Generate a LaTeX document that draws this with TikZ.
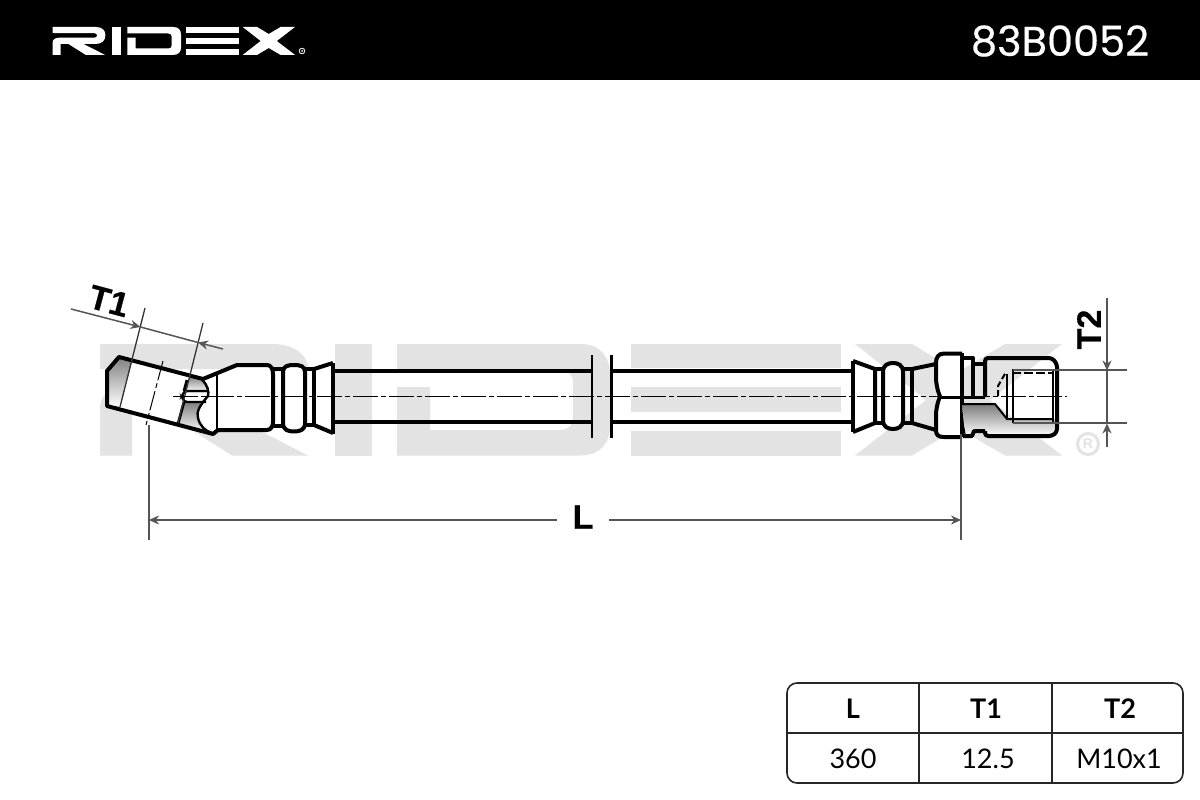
\documentclass[tikz,border=0pt]{standalone}
\usepackage{fontspec}
\setmainfont{Liberation Sans}
\newfontfamily\headfont[FakeBold=0.5]{Poppins}
\newfontfamily\tabfont{Lato}
\newfontfamily\dimfont[FakeBold=0.6]{Liberation Sans Bold}
\usetikzlibrary{arrows.meta}
\definecolor{wm}{HTML}{E3E3E3}
\definecolor{shade}{HTML}{BDBDBD}
\definecolor{dimc}{HTML}{555555}
\newcommand\ridexlogo{%
  \fill (100,455.5) -- (100,408) .. controls (100,395) and (110,387) .. (125,387) -- (262,387)
     .. controls (273,387) and (277,384) .. (277,378) .. controls (277,372) and (273,369) .. (266,369)
     -- (100,369) -- (100,344) -- (272,344) .. controls (298,344) and (310,358) .. (310,377)
     .. controls (310,398) and (296,412) .. (270,412) -- (132,412) -- (132,455.5) -- cycle;
  \fill (165,413) -- (225,413) -- (308,455.5) -- (232,455.5) -- cycle;
  \fill (335,344) rectangle (372,455.5);
  \fill (397,344) -- (580,344) .. controls (600,344) and (610,356) .. (610,375) -- (610,425)
     .. controls (610,444) and (600,455.5) .. (580,455.5) -- (397,455.5) -- (397,387) -- (430,387) -- (430,430)
     -- (560,430) .. controls (569,430) and (573,425) .. (573,417) -- (573,383)
     .. controls (573,375) and (569,370) .. (560,370) -- (397,370) -- cycle;
  \fill (631,344) rectangle (841,368);
  \fill (631,387) rectangle (841,412);
  \fill (631,431) rectangle (841,455.5);
  \fill (855,344) -- (912,344) -- (958,372) -- (1005,344) -- (1062,344) -- (990,400) -- (1062,455.5)
     -- (1005,455.5) -- (958,428) -- (912,455.5) -- (855,455.5) -- (926,400) -- cycle;
}
\tikzset{
  part/.style={draw=black,line width=4pt,line join=round},
  thin part/.style={draw=black,line width=1.4pt},
  dimline/.style={draw=dimc,line width=1.5pt},
  dimarrow/.style={draw=dimc,line width=1.5pt,-{Stealth[length=10pt,width=9pt,fill=dimc]}},
  centre/.style={draw=black,line width=1pt,dash pattern=on 25pt off 3pt on 5pt off 3pt},
  dimtext/.style={font=\dimfont\fontsize{34}{34}\selectfont,text=black,inner sep=0pt},
  tabrule/.style={draw=black!85,line width=1.6pt},
  tabhead/.style={font=\tabfont\fontsize{27}{27}\selectfont\bfseries,text=black,inner sep=0pt},
  tabcell/.style={font=\tabfont\fontsize{27}{27}\selectfont,text=black,inner sep=0pt}
}
\begin{document}
\begin{tikzpicture}[x=1pt,y=-1pt]
\useasboundingbox (0,0) rectangle (1200,800);
\fill[white] (0,0) rectangle (1200,800);
% header
\fill[black] (0,0) rectangle (1200,80);
\begin{scope}[shift={(27.3pt,59pt)},xscale=.252,yscale=.25,white]
  \ridexlogo
\end{scope}
\draw[white,line width=.8pt] (302,51) circle (2.8);
\fill[white] (302,51) circle (1);
\node[font=\headfont\fontsize{41.5}{41.5}\selectfont,text=white,inner sep=0pt] (code) at (1060,41) {83B0052};
% watermark
\begin{scope}[wm]
  \ridexlogo
\end{scope}
\draw[wm,line width=3pt] (1088,444) circle (10.5);
\node[font=\fontsize{14}{14}\selectfont\bfseries,text=wm,inner sep=0pt] (regmark) at (1088,444) {R};
% hose
\draw[part] (333,370.5) -- (592,370.5) (333,422) -- (592,422);
\draw[part] (612,370.5) -- (853,370.5) (612,422) -- (853,422);
\draw[draw=black,line width=2.2pt] (592,355) -- (592,438) (611.5,355) -- (611.5,438);
% left fitting: banjo body
\fill[white] (119,357) -- (202,379) -- (237,365) -- (268,365) -- (273,372) -- (314,369) -- (333,363) -- (333,433) -- (314,425) -- (273,423) -- (267,430) -- (218,430) -- (213,434) -- (107,406) -- (107,371) -- cycle;
\fill[shade] (108,371) -- (119,357) -- (132,361) -- (120,407) -- (108,405) -- cycle;
\fill[shade] (190,376) -- (202,380) -- (208,392) -- (185,392) -- cycle;
\fill[shade] (185,402) -- (203,402) .. controls (197,410) and (196,420) .. (204,429) -- (211,433) -- (178,424) -- cycle;
\draw[part] (203,379) -- (119,357) -- (107,371) -- (107,406) -- (213,434) -- (218,430) -- (267,430)
   .. controls (271,430) and (273,426) .. (273,422) -- (273,374) .. controls (273,369) and (271,365) .. (267,365)
   -- (237,365) -- (203,379);
\draw[thin part,line width=2pt] (217,375) -- (217,430);
\draw[draw=black,line width=2.4pt] (202,380) .. controls (208,385) and (209,392) .. (208,396) .. controls (200,405) and (196,412) .. (198,418) .. controls (200,426) and (205,431) .. (212,433);
\draw[draw=black,line width=2.4pt,rounded corners=3pt] (208,391) -- (184,391) -- (182,396.5) -- (184,402) -- (206,402);
\draw[draw=black,line width=2.8pt] (187,380) -- (184,391) (184,402) -- (178,424);
% left collars
\draw[part] (273,369) -- (283,369) (273,426) -- (283,426);
\draw[part,fill=white] (283,423) -- (283,372) .. controls (283,366) and (288,365) .. (294,365) .. controls (300,365) and (305,366) .. (305,372)
   -- (305,423) .. controls (305,430) and (300,431.5) .. (294,431.5) .. controls (288,431.5) and (283,430) .. (283,423) -- cycle;
\draw[part] (305,369) -- (314,369) -- (314,425) -- (305,425);
\draw[part] (314,369) -- (333,363) (314,425) -- (333,433);
\draw[part,line width=4.4pt] (333,363) -- (333,434);
% right collars
\fill[white] (853,361) -- (875,369) -- (875,423) -- (853,432) -- cycle;
\draw[part,line width=4.4pt] (853,361) -- (853,432);
\draw[part] (853,361) -- (875,369) -- (875,423) -- (853,432);
\draw[part] (875,369) -- (883,369) (875,423) -- (883,423);
\draw[part,fill=white] (883,420) -- (883,372) .. controls (883,365) and (888,363) .. (893,363) .. controls (898,363) and (903,365) .. (903,372)
   -- (903,420) .. controls (903,427) and (898,429) .. (893,429) .. controls (888,429) and (883,427) .. (883,420) -- cycle;
\draw[part] (903,369) -- (912,369) -- (912,423) -- (903,423);
\draw[part] (912,369) -- (936,364) (912,423) -- (936,430);
% nut
\fill[white] (945,353) -- (962,353) -- (962,437) -- (945,437) -- (936,430) -- (936,362) -- cycle;
\draw[part,line join=round] (962,353.5) -- (944,353.5) .. controls (938,353.5) and (936,358) .. (936,363) -- (936,380) .. controls (937,388) and (938,392) .. (940,396.5)
   .. controls (938,401) and (937,405) .. (936,413) -- (936,430) .. controls (936,435) and (938,437) .. (944,437) -- (962,437);
\draw[part] (962,353) -- (962,437);
\draw[part,line width=3pt] (941,397) -- (985,397);
% grey lower half of the far end
\fill[shade] (962,405) -- (995,405) -- (1007,419) -- (1057,419) -- (1057,432) -- (1052,436) -- (985,436) -- (985,431) -- (974,431) -- (972,436) -- (965,436) -- cycle;
\draw[part] (962,358) -- (973,358) -- (973,396);
\draw[part] (973,364) -- (985,364);
\draw[part,rounded corners=3pt] (985,397) -- (985,358) -- (1052,358) -- (1057,364) -- (1057,432) -- (1052,436) -- (985,436) -- (985,431);
\draw[part] (985,431) -- (974,431) -- (972,436) -- (963,436);
\draw[draw=black,line width=2pt] (962,404) -- (995,404) -- (1007,419) -- (1053,419);
\draw[draw=black,line width=1.2pt] (961,417) .. controls (963,424) and (964,428) .. (965,434);
\draw[draw=black,line width=2.2pt] (1007,374) -- (1007,419);
\draw[draw=black,line width=2pt,dash pattern=on 6pt off 3pt] (998,396) -- (998,386) -- (1006,372);
\draw[draw=black,line width=1.8pt,dash pattern=on 9pt off 3pt] (1012,370) -- (1053,370) (1012,373) -- (1053,373);
\draw[thin part] (1013,370) -- (1013,423) (1053,370) -- (1053,423);
% dimension T2
\draw[dimline] (1013,370) -- (1127,370) (1013,423) -- (1127,423);
\coordinate (t2a) at (1107,298); \coordinate (t2b) at (1107,370.5);
\coordinate (t2c) at (1107,447); \coordinate (t2d) at (1107,423.5);
\draw[dimarrow] (t2a) -- (t2b);
\draw[dimarrow] (t2c) -- (t2d);
\draw[dimline] (t2b) -- (t2d);
\node[dimtext,rotate=90] (t2lab) at (1089,329.5) {T2};
% dimension T1
\draw[draw=dimc!60!black,line width=1.3pt] (145,308) -- (120,407) (203,323) -- (178,423);
\coordinate (t1a) at (71,309); \coordinate (t1b) at (140.5,327);
\coordinate (t1c) at (223,349); \coordinate (t1d) at (198,342.5);
\draw[dimarrow] (t1a) -- (t1b);
\draw[dimarrow] (t1c) -- (t1d);
\draw[dimline] (t1b) -- (t1d);
\node[dimtext,rotate=-15] (t1lab) at (109,301) {T1};
% dimension L
\draw[dimline] (149,425) -- (149,540);
\draw[dimline] (961,434) -- (961,540);
\node[dimtext] (llab) at (583,517) {L};
\coordinate (la) at (149,520); \coordinate (lb) at (961,520);
\draw[dimarrow] (557,520) -- (la);
\draw[dimarrow] (609,520) -- (lb);
% centre lines
\draw[centre] (173,396) -- (1067,396);
\draw[centre,dash pattern=on 20pt off 3pt on 5pt off 3pt] (163,361) -- (146,425);
% table
\draw[tabrule,rounded corners=10pt] (787,683) rectangle (1183,783);
\draw[tabrule] (787,733) -- (1183,733) (919,683) -- (919,783) (1052,683) -- (1052,783);
\node[tabhead] (hl) at (853,709) {L};
\node[tabhead] (ht1) at (986,709) {T1};
\node[tabhead] (ht2) at (1120,709) {T2};
\node[tabcell] (vl) at (853,759) {360};
\node[tabcell] (vt1) at (988,759) {12.5};
\node[tabcell] (vt2) at (1119,759) {M10x1};
\end{tikzpicture}
\end{document}
